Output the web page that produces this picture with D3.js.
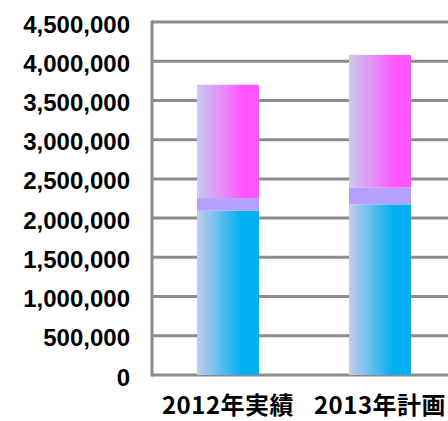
<!DOCTYPE html>
<html>
<head>
<meta charset="utf-8">
<script src="https://d3js.org/d3.v7.min.js"></script>
<style>
  body { margin: 0; background: #fff; }
  svg { display: block; }
</style>
</head>
<body>
<div id="chart"></div>
<script>
var categories = ["2012年実績", "2013年計画"];
var seriesKeys = ["base", "middle", "top"];
var baseValues = [2095000, 2175000];
var middleValues = [160000, 215000];
var topValues = [1445000, 1690000];
var yTicks = [0, 500000, 1000000, 1500000, 2000000, 2500000, 3000000, 3500000, 4000000, 4500000];

var w = 448, h = 421;
var plotLeft = 152, plotRight = 456, plotTop = 22, plotBottom = 375;

var rows = categories.map(function(c, i) {
  return { cat: c, base: baseValues[i], middle: middleValues[i], top: topValues[i] };
});

var svg = d3.select("#chart").append("svg")
  .attr("width", w)
  .attr("height", h);

var defs = svg.append("defs");

function addGrad(id, from, to, stop) {
  var g = defs.append("linearGradient")
    .attr("id", id)
    .attr("x1", "0").attr("x2", "1").attr("y1", "0").attr("y2", "0");
  g.append("stop").attr("offset", "0").attr("stop-color", from);
  g.append("stop").attr("offset", stop).attr("stop-color", to);
  g.append("stop").attr("offset", "1").attr("stop-color", to);
}
addGrad("g-base", "#c6cbec", "#00b0f0", "0.72");
addGrad("g-top", "#c6ccee", "#ff55ff", "0.75");

var fills = { base: "url(#g-base)", middle: "#b4a0ff", top: "url(#g-top)" };

var x = d3.scaleBand()
  .domain(categories)
  .range([plotLeft, plotRight])
  .paddingInner(0.592)
  .paddingOuter(0.296);

var y = d3.scaleLinear()
  .domain([0, 4500000])
  .range([plotBottom, plotTop]);

// gridlines
svg.append("g")
  .selectAll("line")
  .data(yTicks)
  .enter()
  .append("line")
  .attr("x1", plotLeft)
  .attr("x2", plotRight)
  .attr("y1", function(d) { return y(d); })
  .attr("y2", function(d) { return y(d); })
  .attr("stroke", "#8c8c8c")
  .attr("stroke-width", 3);

// left axis line
svg.append("line")
  .attr("x1", plotLeft).attr("x2", plotLeft)
  .attr("y1", y(4500000) - 1.5).attr("y2", y(0) + 1.5)
  .attr("stroke", "#8c8c8c")
  .attr("stroke-width", 3);

var stacked = d3.stack().keys(seriesKeys)(rows);

svg.append("g")
  .selectAll("g")
  .data(stacked)
  .enter()
  .append("g")
  .attr("fill", function(s) { return fills[s.key]; })
  .selectAll("rect")
  .data(function(s) { return s; })
  .enter()
  .append("rect")
  .attr("x", function(d) { return x(d.data.cat); })
  .attr("width", x.bandwidth())
  .attr("y", function(d) { return y(d[1]); })
  .attr("height", function(d) { return y(d[0]) - y(d[1]); });

// y tick labels
var yAxis = d3.axisLeft(y)
  .tickValues(yTicks)
  .tickSize(0)
  .tickPadding(22)
  .tickFormat(d3.format(","));

svg.append("g")
  .attr("transform", "translate(" + plotLeft + ",0)")
  .call(yAxis)
  .call(function(g) { g.select(".domain").remove(); })
  .selectAll("text")
  .attr("dy", "0.42em")
  .attr("fill", "#000")
  .style("font-family", "'Liberation Sans', Arial, sans-serif")
  .style("font-weight", "bold")
  .style("font-size", "24px");

// x labels
var xAxis = d3.axisBottom(x).tickSize(0).tickPadding(0);
svg.append("g")
  .attr("transform", "translate(0," + (plotBottom + 41) + ")")
  .call(xAxis)
  .call(function(g) { g.select(".domain").remove(); })
  .selectAll("text")
  .attr("dy", "-0.1em")
  .attr("fill", "#000")
  .style("font-family", "'Noto Sans CJK JP', sans-serif")
  .style("font-weight", "bold")
  .style("font-size", "24px")
  .style("letter-spacing", "0.5px");
</script>
</body>
</html>
